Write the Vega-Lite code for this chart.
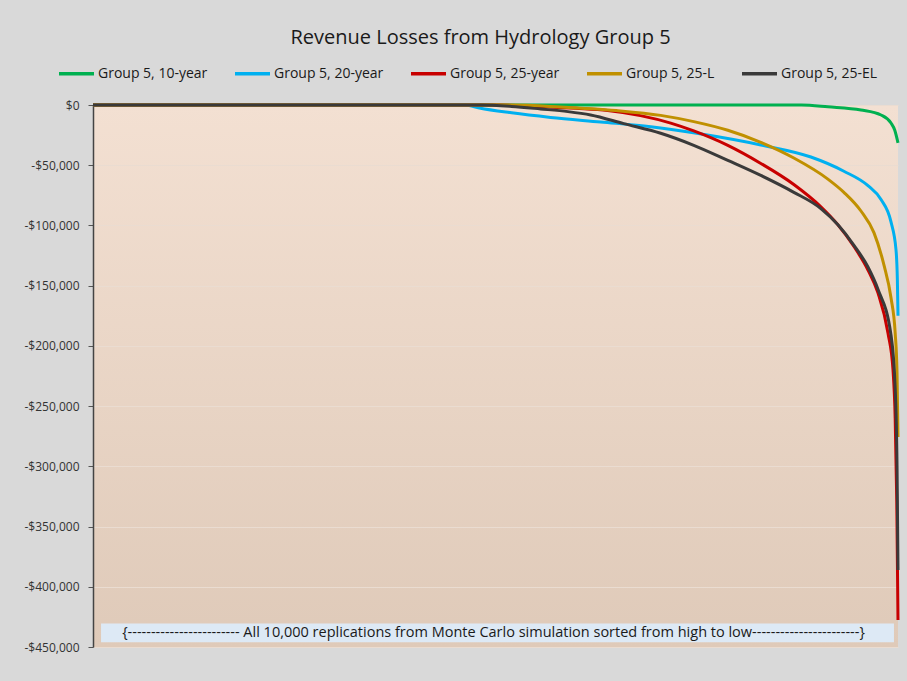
{
  "$schema": "https://vega.github.io/schema/vega-lite/v6.json",
  "width": 805,
  "height": 542,
  "autosize": {"type": "none"},
  "padding": {"left": 93, "top": 105, "right": 9, "bottom": 34},
  "background": "#d9d9d9",
  "title": {
    "text": "Revenue Losses from Hydrology Group 5",
    "font": "Open Sans",
    "fontSize": 20,
    "fontWeight": "normal",
    "color": "#1a1a1a",
    "anchor": "middle",
    "dx": -15,
    "offset": 6
  },
  "config": {
    "font": "Open Sans",
    "view": {
      "stroke": null,
      "fill": {
        "gradient": "linear",
        "x1": 0, "y1": 0, "x2": 0, "y2": 1,
        "stops": [
          {"offset": 0, "color": "#f3e0d2"},
          {"offset": 1, "color": "#dfcab9"}
        ]
      }
    }
  },
  "layer": [
    {
      "data": {
        "values": [
          {"s": "Group 5, 10-year", "r": 0, "v": 0},
          {"s": "Group 5, 10-year", "r": 8800, "v": 0},
          {"s": "Group 5, 10-year", "r": 9129, "v": -1500},
          {"s": "Group 5, 10-year", "r": 9540, "v": -4150},
          {"s": "Group 5, 10-year", "r": 9789, "v": -8300},
          {"s": "Group 5, 10-year", "r": 9913, "v": -14950},
          {"s": "Group 5, 10-year", "r": 9960, "v": -21000},
          {"s": "Group 5, 10-year", "r": 10000, "v": -31500},

          {"s": "Group 5, 20-year", "r": 0, "v": 0},
          {"s": "Group 5, 20-year", "r": 4627, "v": 0},
          {"s": "Group 5, 20-year", "r": 4800, "v": -2500},
          {"s": "Group 5, 20-year", "r": 5200, "v": -6500},
          {"s": "Group 5, 20-year", "r": 5684, "v": -10300},
          {"s": "Group 5, 20-year", "r": 6306, "v": -14100},
          {"s": "Group 5, 20-year", "r": 6928, "v": -18000},
          {"s": "Group 5, 20-year", "r": 7500, "v": -23500},
          {"s": "Group 5, 20-year", "r": 8296, "v": -33200},
          {"s": "Group 5, 20-year", "r": 8918, "v": -43200},
          {"s": "Group 5, 20-year", "r": 9328, "v": -55000},
          {"s": "Group 5, 20-year", "r": 9627, "v": -67000},
          {"s": "Group 5, 20-year", "r": 9789, "v": -78500},
          {"s": "Group 5, 20-year", "r": 9913, "v": -97100},
          {"s": "Group 5, 20-year", "r": 9975, "v": -120000},
          {"s": "Group 5, 20-year", "r": 9992, "v": -145000},
          {"s": "Group 5, 20-year", "r": 10000, "v": -175000},

          {"s": "Group 5, 25-year", "r": 0, "v": 0},
          {"s": "Group 5, 25-year", "r": 5062, "v": 0},
          {"s": "Group 5, 25-year", "r": 5500, "v": -1200},
          {"s": "Group 5, 25-year", "r": 6000, "v": -2800},
          {"s": "Group 5, 25-year", "r": 6393, "v": -4600},
          {"s": "Group 5, 25-year", "r": 6800, "v": -8800},
          {"s": "Group 5, 25-year", "r": 7177, "v": -15000},
          {"s": "Group 5, 25-year", "r": 7463, "v": -21500},
          {"s": "Group 5, 25-year", "r": 7886, "v": -33500},
          {"s": "Group 5, 25-year", "r": 8296, "v": -48500},
          {"s": "Group 5, 25-year", "r": 8706, "v": -66000},
          {"s": "Group 5, 25-year", "r": 9042, "v": -84500},
          {"s": "Group 5, 25-year", "r": 9254, "v": -99500},
          {"s": "Group 5, 25-year", "r": 9453, "v": -117500},
          {"s": "Group 5, 25-year", "r": 9627, "v": -137000},
          {"s": "Group 5, 25-year", "r": 9751, "v": -156000},
          {"s": "Group 5, 25-year", "r": 9876, "v": -189500},
          {"s": "Group 5, 25-year", "r": 9938, "v": -220000},
          {"s": "Group 5, 25-year", "r": 9965, "v": -260000},
          {"s": "Group 5, 25-year", "r": 9985, "v": -330000},
          {"s": "Group 5, 25-year", "r": 10000, "v": -427600},

          {"s": "Group 5, 25-L", "r": 0, "v": 0},
          {"s": "Group 5, 25-L", "r": 5187, "v": 0},
          {"s": "Group 5, 25-L", "r": 5800, "v": -1600},
          {"s": "Group 5, 25-L", "r": 6500, "v": -4600},
          {"s": "Group 5, 25-L", "r": 7052, "v": -8600},
          {"s": "Group 5, 25-L", "r": 7463, "v": -13800},
          {"s": "Group 5, 25-L", "r": 7886, "v": -21000},
          {"s": "Group 5, 25-L", "r": 8296, "v": -31000},
          {"s": "Group 5, 25-L", "r": 8706, "v": -44000},
          {"s": "Group 5, 25-L", "r": 9129, "v": -61500},
          {"s": "Group 5, 25-L", "r": 9328, "v": -72500},
          {"s": "Group 5, 25-L", "r": 9540, "v": -88000},
          {"s": "Group 5, 25-L", "r": 9701, "v": -106000},
          {"s": "Group 5, 25-L", "r": 9826, "v": -133000},
          {"s": "Group 5, 25-L", "r": 9913, "v": -160000},
          {"s": "Group 5, 25-L", "r": 9965, "v": -189300},
          {"s": "Group 5, 25-L", "r": 9988, "v": -222500},
          {"s": "Group 5, 25-L", "r": 10000, "v": -275600},

          {"s": "Group 5, 25-EL", "r": 0, "v": 0},
          {"s": "Group 5, 25-EL", "r": 4813, "v": 0},
          {"s": "Group 5, 25-EL", "r": 5200, "v": -1200},
          {"s": "Group 5, 25-EL", "r": 5560, "v": -3300},
          {"s": "Group 5, 25-EL", "r": 5900, "v": -5500},
          {"s": "Group 5, 25-EL", "r": 6182, "v": -8300},
          {"s": "Group 5, 25-EL", "r": 6592, "v": -15500},
          {"s": "Group 5, 25-EL", "r": 7052, "v": -23500},
          {"s": "Group 5, 25-EL", "r": 7463, "v": -33500},
          {"s": "Group 5, 25-EL", "r": 7886, "v": -46000},
          {"s": "Group 5, 25-EL", "r": 8296, "v": -58500},
          {"s": "Group 5, 25-EL", "r": 8706, "v": -72500},
          {"s": "Group 5, 25-EL", "r": 9042, "v": -86000},
          {"s": "Group 5, 25-EL", "r": 9254, "v": -99500},
          {"s": "Group 5, 25-EL", "r": 9453, "v": -116500},
          {"s": "Group 5, 25-EL", "r": 9627, "v": -134500},
          {"s": "Group 5, 25-EL", "r": 9751, "v": -153000},
          {"s": "Group 5, 25-EL", "r": 9913, "v": -191000},
          {"s": "Group 5, 25-EL", "r": 9965, "v": -235000},
          {"s": "Group 5, 25-EL", "r": 9988, "v": -300000},
          {"s": "Group 5, 25-EL", "r": 10000, "v": -386000}
        ]
      },
      "mark": {"type": "line", "strokeWidth": 3, "interpolate": "monotone"},
      "encoding": {
        "x": {"field": "r", "type": "quantitative", "scale": {"domain": [0, 10000], "nice": false}, "axis": null},
        "y": {
          "field": "v", "type": "quantitative",
          "scale": {"domain": [-450000, 0], "nice": false},
          "axis": {
            "title": null,
            "values": [0, -50000, -100000, -150000, -200000, -250000, -300000, -350000, -400000, -450000],
            "labelExpr": "datum.value < 0 ? '-$' + format(-datum.value, ',') : '$0'",
            "labelFont": "Open Sans",
            "labelFontSize": 12,
            "labelColor": "#333333",
            "labelPadding": 9,
            "tickSize": 5,
            "tickColor": "#555555",
            "domainColor": "#444444",
            "domainWidth": 1.5,
            "grid": true,
            "gridColor": "#eadcd1",
            "gridWidth": 1.2
          }
        },
        "color": {
          "field": "s", "type": "nominal",
          "scale": {
            "domain": ["Group 5, 10-year", "Group 5, 20-year", "Group 5, 25-year", "Group 5, 25-L", "Group 5, 25-EL"],
            "range": ["#00b050", "#00b0f0", "#c80000", "#c09000", "#3a3a3a"]
          },
          "legend": {
            "orient": "none",
            "legendX": -36,
            "legendY": -51,
            "direction": "horizontal",
            "title": null,
            "symbolType": "stroke",
            "symbolSize": 1225,
            "symbolStrokeWidth": 3.5,
            "labelFont": "Open Sans",
            "labelFontSize": 14,
            "labelColor": "#1a1a1a",
            "labelOffset": 2,
            "columnPadding": 20,
            "labelLimit": 300
          }
        }
      }
    },
    {
      "data": {"values": [{"note": "{------------------------ All 10,000 replications from Monte Carlo simulation sorted from high to low-----------------------}"}]},
      "mark": {"type": "rect", "fill": "#dde9f5"},
      "encoding": {
        "x": {"datum": 100},
        "x2": {"datum": 9950},
        "y": {"datum": -430500},
        "y2": {"datum": -446000}
      }
    },
    {
      "data": {"values": [{"note": "{------------------------ All 10,000 replications from Monte Carlo simulation sorted from high to low-----------------------}"}]},
      "mark": {"type": "text", "font": "Open Sans", "fontSize": 14.5, "color": "#1a1a1a", "align": "center", "baseline": "middle"},
      "encoding": {
        "x": {"datum": 4975},
        "y": {"datum": -438200},
        "text": {"field": "note"}
      }
    }
  ]
}
